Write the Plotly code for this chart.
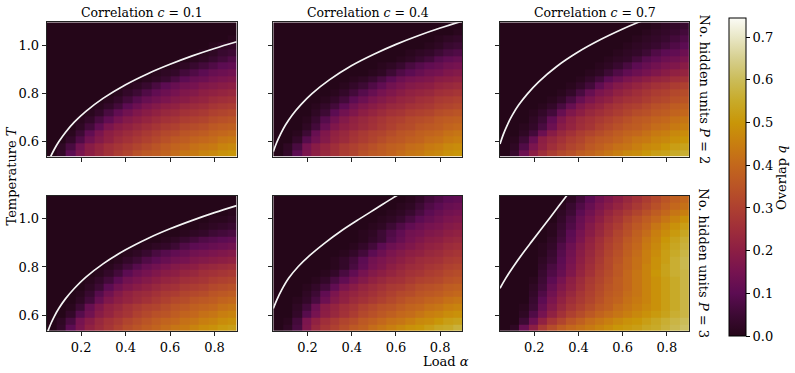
import numpy as np
import plotly.graph_objects as go

# ---------------- data ----------------
alpha = [0.066, 0.109, 0.152, 0.195, 0.237, 0.280, 0.323, 0.365, 0.408, 0.451,
         0.494, 0.536, 0.579, 0.622, 0.665, 0.707, 0.750, 0.793, 0.836, 0.879]
temperature = [0.549, 0.577, 0.605, 0.633, 0.661, 0.689, 0.717, 0.745, 0.773, 0.801,
               0.829, 0.857, 0.885, 0.913, 0.941, 0.969, 0.997, 1.025, 1.053, 1.081]

correlations = ["0.1", "0.4", "0.7"]
hidden_units = ["2", "3"]

# overlap q in hundredths; rows = temperature (low -> high), cols = alpha (low -> high)
q_p2_c01 = [
    [0, 3, 10, 16, 20, 23, 26, 29, 31, 34, 36, 37, 39, 41, 43, 44, 46, 47, 49, 50],
    [0, 2, 7, 14, 19, 22, 25, 27, 29, 31, 33, 35, 37, 39, 40, 42, 43, 44, 46, 47],
    [0, 0, 3, 8, 14, 18, 21, 24, 26, 28, 30, 32, 34, 36, 37, 39, 40, 41, 43, 44],
    [0, 0, 1, 5, 11, 16, 20, 22, 24, 26, 28, 30, 32, 33, 35, 36, 37, 39, 40, 41],
    [0, 0, 0, 2, 6, 11, 16, 19, 21, 23, 25, 27, 29, 30, 32, 33, 34, 36, 37, 38],
    [0, 0, 0, 1, 3, 7, 11, 15, 18, 20, 22, 24, 26, 27, 29, 30, 31, 33, 34, 35],
    [0, 0, 0, 0, 1, 3, 7, 11, 14, 17, 19, 21, 23, 24, 26, 27, 28, 30, 31, 32],
    [0, 0, 0, 0, 0, 1, 3, 6, 10, 13, 16, 18, 20, 21, 23, 24, 25, 27, 28, 29],
    [0, 0, 0, 0, 0, 0, 1, 3, 6, 9, 12, 14, 16, 18, 19, 21, 22, 24, 25, 26],
    [0, 0, 0, 0, 0, 0, 0, 1, 3, 5, 8, 11, 13, 15, 17, 18, 20, 21, 22, 23],
    [0, 0, 0, 0, 0, 0, 0, 0, 1, 2, 4, 7, 10, 12, 14, 15, 17, 18, 19, 20],
    [0, 0, 0, 0, 0, 0, 0, 0, 0, 0, 1, 2, 4, 7, 10, 12, 13, 15, 16, 17],
    [0, 0, 0, 0, 0, 0, 0, 0, 0, 0, 0, 1, 2, 3, 6, 8, 10, 12, 13, 14],
    [0, 0, 0, 0, 0, 0, 0, 0, 0, 0, 0, 0, 0, 1, 2, 4, 6, 8, 10, 11],
    [0, 0, 0, 0, 0, 0, 0, 0, 0, 0, 0, 0, 0, 0, 0, 1, 2, 4, 6, 8],
    [0, 0, 0, 0, 0, 0, 0, 0, 0, 0, 0, 0, 0, 0, 0, 0, 1, 2, 4, 5],
    [0, 0, 0, 0, 0, 0, 0, 0, 0, 0, 0, 0, 0, 0, 0, 0, 0, 1, 2, 3],
    [0, 0, 0, 0, 0, 0, 0, 0, 0, 0, 0, 0, 0, 0, 0, 0, 0, 0, 0, 1],
    [0, 0, 0, 0, 0, 0, 0, 0, 0, 0, 0, 0, 0, 0, 0, 0, 0, 0, 0, 0],
    [0, 0, 0, 0, 0, 0, 0, 0, 0, 0, 0, 0, 0, 0, 0, 0, 0, 0, 0, 0],
]
q_p2_c04 = [
    [0, 3, 10, 16, 20, 23, 26, 29, 31, 34, 36, 37, 39, 41, 43, 44, 46, 47, 49, 50],
    [0, 2, 7, 15, 19, 22, 25, 28, 30, 32, 34, 36, 38, 39, 41, 42, 44, 45, 47, 48],
    [0, 0, 3, 9, 14, 18, 22, 24, 27, 29, 31, 33, 35, 36, 38, 39, 41, 42, 44, 45],
    [0, 0, 1, 5, 12, 17, 21, 23, 26, 28, 30, 31, 33, 35, 36, 38, 39, 40, 42, 43],
    [0, 0, 0, 2, 6, 12, 17, 20, 22, 24, 26, 28, 30, 32, 33, 35, 36, 37, 39, 40],
    [0, 0, 0, 1, 4, 9, 14, 18, 21, 23, 25, 27, 29, 30, 32, 33, 34, 36, 37, 38],
    [0, 0, 0, 0, 2, 5, 10, 14, 17, 20, 22, 24, 26, 27, 29, 30, 31, 33, 34, 35],
    [0, 0, 0, 0, 1, 3, 6, 10, 14, 17, 19, 21, 23, 24, 26, 27, 28, 30, 31, 32],
    [0, 0, 0, 0, 0, 1, 3, 6, 10, 13, 16, 18, 20, 22, 23, 25, 26, 28, 29, 30],
    [0, 0, 0, 0, 0, 0, 1, 3, 6, 9, 12, 15, 17, 19, 21, 22, 23, 25, 26, 27],
    [0, 0, 0, 0, 0, 0, 0, 1, 3, 5, 8, 11, 14, 16, 18, 19, 20, 22, 23, 24],
    [0, 0, 0, 0, 0, 0, 0, 0, 1, 2, 4, 7, 10, 13, 15, 16, 17, 19, 20, 21],
    [0, 0, 0, 0, 0, 0, 0, 0, 0, 0, 1, 2, 5, 8, 10, 12, 14, 15, 17, 18],
    [0, 0, 0, 0, 0, 0, 0, 0, 0, 0, 0, 1, 2, 4, 7, 9, 11, 12, 14, 15],
    [0, 0, 0, 0, 0, 0, 0, 0, 0, 0, 0, 0, 0, 1, 2, 4, 6, 9, 11, 12],
    [0, 0, 0, 0, 0, 0, 0, 0, 0, 0, 0, 0, 0, 0, 1, 2, 3, 5, 7, 8],
    [0, 0, 0, 0, 0, 0, 0, 0, 0, 0, 0, 0, 0, 0, 0, 0, 1, 2, 4, 5],
    [0, 0, 0, 0, 0, 0, 0, 0, 0, 0, 0, 0, 0, 0, 0, 0, 0, 1, 2, 3],
    [0, 0, 0, 0, 0, 0, 0, 0, 0, 0, 0, 0, 0, 0, 0, 0, 0, 0, 0, 1],
    [0, 0, 0, 0, 0, 0, 0, 0, 0, 0, 0, 0, 0, 0, 0, 0, 0, 0, 0, 0],
]
q_p2_c07 = [
    [0, 4, 13, 20, 25, 29, 32, 34, 37, 39, 41, 43, 45, 47, 48, 50, 52, 53, 55, 56],
    [0, 2, 8, 16, 21, 25, 28, 31, 33, 36, 38, 40, 42, 43, 45, 47, 48, 50, 52, 53],
    [0, 1, 5, 12, 20, 23, 26, 29, 31, 34, 36, 37, 39, 41, 43, 44, 46, 47, 49, 50],
    [0, 0, 2, 6, 13, 19, 23, 26, 29, 31, 33, 35, 37, 39, 40, 42, 44, 45, 47, 48],
    [0, 0, 1, 3, 7, 13, 19, 22, 25, 27, 30, 32, 34, 36, 37, 39, 41, 42, 44, 45],
    [0, 0, 0, 2, 5, 11, 17, 21, 24, 26, 28, 30, 32, 34, 36, 37, 39, 40, 42, 43],
    [0, 0, 0, 1, 3, 6, 12, 17, 20, 23, 25, 27, 29, 31, 33, 34, 36, 37, 39, 40],
    [0, 0, 0, 0, 1, 3, 7, 12, 17, 20, 22, 25, 27, 29, 30, 32, 34, 35, 37, 38],
    [0, 0, 0, 0, 0, 1, 3, 7, 12, 16, 19, 21, 24, 26, 27, 29, 31, 32, 34, 35],
    [0, 0, 0, 0, 0, 0, 1, 3, 7, 12, 16, 18, 21, 23, 25, 27, 29, 30, 32, 33],
    [0, 0, 0, 0, 0, 0, 0, 1, 3, 6, 11, 15, 18, 20, 22, 24, 26, 27, 29, 30],
    [0, 0, 0, 0, 0, 0, 0, 0, 1, 3, 6, 10, 13, 16, 18, 20, 22, 23, 25, 26],
    [0, 0, 0, 0, 0, 0, 0, 0, 0, 1, 2, 5, 8, 11, 13, 15, 17, 19, 21, 22],
    [0, 0, 0, 0, 0, 0, 0, 0, 0, 0, 1, 2, 4, 7, 10, 12, 14, 16, 17, 19],
    [0, 0, 0, 0, 0, 0, 0, 0, 0, 0, 0, 1, 2, 3, 6, 9, 11, 13, 14, 16],
    [0, 0, 0, 0, 0, 0, 0, 0, 0, 0, 0, 0, 1, 2, 3, 5, 8, 10, 11, 13],
    [0, 0, 0, 0, 0, 0, 0, 0, 0, 0, 0, 0, 0, 1, 2, 3, 4, 6, 8, 10],
    [0, 0, 0, 0, 0, 0, 0, 0, 0, 0, 0, 0, 0, 0, 1, 2, 3, 4, 6, 8],
    [0, 0, 0, 0, 0, 0, 0, 0, 0, 0, 0, 0, 0, 0, 0, 1, 2, 3, 4, 6],
    [0, 0, 0, 0, 0, 0, 0, 0, 0, 0, 0, 0, 0, 0, 0, 0, 1, 2, 3, 4],
]
q_p3_c01 = [
    [0, 3, 10, 16, 21, 24, 27, 30, 33, 35, 37, 39, 41, 43, 44, 46, 48, 49, 51, 52],
    [0, 2, 7, 15, 19, 23, 26, 28, 31, 33, 35, 37, 39, 40, 42, 43, 45, 46, 48, 49],
    [0, 0, 3, 9, 14, 19, 22, 25, 27, 30, 32, 34, 35, 37, 39, 40, 42, 43, 45, 46],
    [0, 0, 1, 5, 12, 17, 21, 23, 26, 28, 30, 31, 33, 35, 36, 38, 39, 40, 42, 43],
    [0, 0, 0, 2, 6, 12, 17, 20, 22, 24, 26, 28, 30, 32, 33, 35, 36, 37, 39, 40],
    [0, 0, 0, 1, 4, 9, 14, 18, 21, 23, 24, 26, 28, 29, 31, 32, 33, 35, 36, 37],
    [0, 0, 0, 0, 2, 5, 10, 14, 17, 19, 21, 23, 25, 26, 28, 29, 30, 32, 33, 34],
    [0, 0, 0, 0, 1, 3, 6, 10, 14, 16, 18, 20, 22, 23, 25, 26, 27, 29, 30, 31],
    [0, 0, 0, 0, 0, 1, 3, 6, 10, 13, 15, 17, 19, 20, 22, 23, 25, 26, 27, 28],
    [0, 0, 0, 0, 0, 0, 1, 3, 6, 9, 12, 14, 16, 18, 19, 20, 22, 23, 24, 25],
    [0, 0, 0, 0, 0, 0, 0, 1, 3, 5, 8, 10, 12, 14, 15, 17, 18, 19, 20, 21],
    [0, 0, 0, 0, 0, 0, 0, 0, 1, 2, 4, 7, 9, 11, 12, 14, 15, 16, 17, 18],
    [0, 0, 0, 0, 0, 0, 0, 0, 0, 0, 1, 2, 3, 5, 8, 10, 11, 12, 13, 14],
    [0, 0, 0, 0, 0, 0, 0, 0, 0, 0, 0, 0, 1, 2, 4, 6, 8, 9, 10, 11],
    [0, 0, 0, 0, 0, 0, 0, 0, 0, 0, 0, 0, 0, 0, 1, 2, 3, 5, 6, 7],
    [0, 0, 0, 0, 0, 0, 0, 0, 0, 0, 0, 0, 0, 0, 0, 0, 1, 2, 3, 4],
    [0, 0, 0, 0, 0, 0, 0, 0, 0, 0, 0, 0, 0, 0, 0, 0, 0, 1, 1, 2],
    [0, 0, 0, 0, 0, 0, 0, 0, 0, 0, 0, 0, 0, 0, 0, 0, 0, 0, 0, 1],
    [0, 0, 0, 0, 0, 0, 0, 0, 0, 0, 0, 0, 0, 0, 0, 0, 0, 0, 0, 0],
    [0, 0, 0, 0, 0, 0, 0, 0, 0, 0, 0, 0, 0, 0, 0, 0, 0, 0, 0, 0],
]
q_p3_c04 = [
    [0, 2, 7, 17, 23, 27, 30, 33, 36, 38, 41, 43, 45, 47, 49, 50, 52, 54, 55, 57],
    [0, 1, 6, 16, 21, 25, 28, 31, 33, 36, 38, 40, 42, 43, 45, 47, 48, 50, 52, 53],
    [0, 0, 3, 9, 15, 20, 23, 26, 29, 32, 34, 36, 38, 40, 41, 43, 45, 46, 48, 49],
    [0, 0, 2, 6, 13, 19, 22, 25, 27, 30, 32, 34, 35, 37, 39, 40, 42, 43, 45, 46],
    [0, 0, 1, 3, 7, 13, 18, 21, 24, 26, 28, 30, 32, 34, 36, 37, 39, 40, 42, 43],
    [0, 0, 0, 2, 5, 11, 16, 20, 22, 24, 26, 28, 30, 32, 33, 35, 36, 37, 39, 40],
    [0, 0, 0, 1, 3, 6, 11, 16, 19, 22, 24, 26, 28, 29, 31, 33, 34, 35, 37, 38],
    [0, 0, 0, 0, 1, 3, 7, 11, 15, 18, 21, 23, 25, 26, 28, 30, 31, 32, 34, 35],
    [0, 0, 0, 0, 0, 1, 3, 7, 11, 15, 18, 20, 22, 24, 26, 27, 29, 30, 32, 33],
    [0, 0, 0, 0, 0, 0, 1, 3, 7, 11, 15, 17, 20, 22, 24, 25, 27, 28, 30, 31],
    [0, 0, 0, 0, 0, 0, 1, 3, 6, 10, 14, 16, 18, 20, 22, 24, 25, 26, 28, 29],
    [0, 0, 0, 0, 0, 0, 0, 1, 3, 6, 10, 13, 16, 18, 20, 21, 23, 24, 26, 27],
    [0, 0, 0, 0, 0, 0, 0, 0, 1, 3, 6, 10, 13, 15, 17, 19, 21, 22, 24, 25],
    [0, 0, 0, 0, 0, 0, 0, 0, 0, 1, 3, 5, 9, 12, 15, 17, 19, 20, 22, 23],
    [0, 0, 0, 0, 0, 0, 0, 0, 0, 1, 2, 5, 8, 11, 14, 15, 17, 18, 20, 21],
    [0, 0, 0, 0, 0, 0, 0, 0, 0, 0, 1, 2, 5, 8, 11, 13, 15, 16, 18, 19],
    [0, 0, 0, 0, 0, 0, 0, 0, 0, 0, 0, 1, 2, 4, 7, 10, 12, 14, 16, 17],
    [0, 0, 0, 0, 0, 0, 0, 0, 0, 0, 0, 0, 1, 2, 4, 7, 10, 12, 14, 15],
    [0, 0, 0, 0, 0, 0, 0, 0, 0, 0, 0, 0, 0, 1, 2, 5, 8, 10, 12, 13],
    [0, 0, 0, 0, 0, 0, 0, 0, 0, 0, 0, 0, 0, 0, 1, 3, 6, 8, 10, 11],
]
q_p3_c07 = [
    [0, 2, 12, 20, 28, 33, 37, 40, 42, 44, 46, 48, 50, 51, 52, 54, 55, 57, 59, 61],
    [0, 0, 5, 13, 21, 27, 31, 35, 38, 41, 43, 45, 47, 49, 50, 52, 54, 56, 58, 60],
    [0, 0, 2, 8, 15, 21, 26, 30, 33, 36, 39, 41, 43, 45, 47, 49, 51, 53, 56, 58],
    [0, 0, 1, 5, 12, 18, 23, 27, 30, 33, 36, 38, 41, 43, 45, 47, 49, 52, 55, 58],
    [0, 0, 0, 4, 10, 16, 21, 25, 28, 31, 34, 37, 39, 42, 44, 46, 49, 52, 55, 58],
    [0, 0, 0, 3, 8, 14, 19, 23, 27, 30, 33, 36, 38, 41, 43, 46, 49, 52, 55, 58],
    [0, 0, 0, 2, 6, 12, 17, 21, 25, 29, 32, 35, 37, 40, 43, 46, 49, 52, 55, 58],
    [0, 0, 0, 1, 5, 10, 15, 20, 24, 28, 31, 34, 37, 40, 43, 46, 49, 52, 55, 58],
    [0, 0, 0, 0, 4, 8, 12, 17, 22, 26, 30, 33, 36, 40, 43, 46, 50, 53, 56, 58],
    [0, 0, 0, 0, 3, 7, 11, 16, 21, 25, 29, 32, 36, 39, 42, 46, 49, 53, 56, 59],
    [0, 0, 0, 0, 2, 5, 10, 15, 20, 24, 28, 32, 35, 39, 42, 45, 49, 52, 56, 59],
    [0, 0, 0, 0, 1, 4, 9, 14, 19, 23, 27, 31, 34, 38, 41, 45, 48, 52, 55, 58],
    [0, 0, 0, 0, 1, 3, 8, 13, 18, 22, 26, 30, 33, 37, 40, 44, 47, 51, 54, 57],
    [0, 0, 0, 0, 0, 2, 6, 11, 16, 21, 25, 29, 32, 36, 39, 43, 46, 50, 53, 56],
    [0, 0, 0, 0, 0, 1, 5, 10, 15, 19, 23, 27, 31, 34, 38, 41, 45, 48, 51, 54],
    [0, 0, 0, 0, 0, 1, 4, 8, 13, 18, 22, 26, 29, 33, 36, 39, 43, 46, 49, 52],
    [0, 0, 0, 0, 0, 0, 3, 7, 12, 16, 20, 24, 27, 31, 34, 37, 40, 43, 46, 49],
    [0, 0, 0, 0, 0, 0, 2, 5, 10, 14, 18, 22, 25, 28, 31, 34, 37, 40, 43, 45],
    [0, 0, 0, 0, 0, 0, 1, 4, 8, 12, 16, 19, 22, 25, 28, 31, 34, 37, 40, 42],
    [0, 0, 0, 0, 0, 0, 0, 2, 6, 10, 14, 17, 20, 23, 26, 29, 32, 35, 38, 40],
]

# critical lines (alpha, T)
line_p2_c01_alpha = [0.063, 0.08, 0.10, 0.13, 0.17, 0.22, 0.30, 0.40, 0.50, 0.60, 0.70, 0.80, 0.90]
line_p2_c01_T = [0.536, 0.567, 0.598, 0.637, 0.680, 0.723, 0.779, 0.835, 0.881, 0.920, 0.955, 0.986, 1.014]
line_p2_c04_alpha = [0.045, 0.06, 0.08, 0.10, 0.13, 0.17, 0.22, 0.30, 0.40, 0.50, 0.60, 0.70, 0.80, 0.90]
line_p2_c04_T = [0.556, 0.593, 0.633, 0.667, 0.708, 0.752, 0.798, 0.856, 0.915, 0.962, 1.003, 1.039, 1.071, 1.100]
line_p2_c07_alpha = [0.045, 0.06, 0.08, 0.10, 0.13, 0.17, 0.22, 0.30, 0.40, 0.50, 0.60, 0.66, 0.70]
line_p2_c07_T = [0.588, 0.628, 0.671, 0.707, 0.751, 0.798, 0.847, 0.910, 0.972, 1.023, 1.067, 1.091, 1.105]
line_p3_c01_alpha = [0.05, 0.065, 0.08, 0.10, 0.13, 0.17, 0.22, 0.30, 0.40, 0.50, 0.60, 0.70, 0.80, 0.90]
line_p3_c01_T = [0.534, 0.568, 0.597, 0.629, 0.669, 0.712, 0.757, 0.814, 0.871, 0.918, 0.958, 0.993, 1.025, 1.054]
line_p3_c04_alpha = [0.045, 0.06, 0.083, 0.115, 0.158, 0.21, 0.279, 0.35, 0.437, 0.51, 0.59, 0.63]
line_p3_c04_T = [0.628, 0.662, 0.705, 0.754, 0.802, 0.848, 0.900, 0.948, 1.000, 1.042, 1.088, 1.110]
line_p3_c07_alpha = [0.045, 0.07, 0.105, 0.145, 0.188, 0.23, 0.271, 0.31, 0.35]
line_p3_c07_T = [0.712, 0.752, 0.801, 0.853, 0.905, 0.955, 1.004, 1.051, 1.099]

x_ticks = [0.2, 0.4, 0.6, 0.8]
y_ticks = [0.6, 0.8, 1.0]
cbar_ticks = [0.0, 0.1, 0.2, 0.3, 0.4, 0.5, 0.6, 0.7]

# ---------------- style ----------------
W, H = 795, 373
FONT = "DejaVu Serif"
ZMAX = 0.745
colorscale = [
    [0.000, "#250619"], [0.067, "#3d0a34"], [0.134, "#5c0c52"], [0.201, "#761350"],
    [0.268, "#8c1e44"], [0.336, "#9f2e3a"], [0.403, "#ae4030"], [0.470, "#ba5426"],
    [0.537, "#c3671c"], [0.604, "#c87e10"], [0.671, "#c99608"], [0.738, "#c8aa28"],
    [0.805, "#cbbc58"], [0.872, "#d6cf8e"], [0.940, "#e9e7c6"], [1.000, "#fbfbf6"],
]

panels = [
    [(q_p2_c01, line_p2_c01_alpha, line_p2_c01_T),
     (q_p2_c04, line_p2_c04_alpha, line_p2_c04_T),
     (q_p2_c07, line_p2_c07_alpha, line_p2_c07_T)],
    [(q_p3_c01, line_p3_c01_alpha, line_p3_c01_T),
     (q_p3_c04, line_p3_c04_alpha, line_p3_c04_T),
     (q_p3_c07, line_p3_c07_alpha, line_p3_c07_T)],
]

col_px = [(46.7, 236.7), (273.3, 462.3), (500.0, 689.0)]
row_px = [(22.3, 156.7), (195.7, 331.0)]

fig = go.Figure()
layout = dict(
    width=W, height=H, margin=dict(l=0, r=0, t=0, b=0),
    paper_bgcolor="white", plot_bgcolor="white", showlegend=False,
    font=dict(family=FONT, size=13, color="black"),
)
annotations = []

for r in range(2):
    for c in range(3):
        idx = r * 3 + c + 1
        xa = "x" if idx == 1 else f"x{idx}"
        ya = "y" if idx == 1 else f"y{idx}"
        q, la, lt = panels[r][c]
        z = np.array(q, dtype=float) / 100.0
        fig.add_trace(go.Heatmap(
            x=alpha, y=temperature, z=z, zmin=0, zmax=ZMAX, zsmooth=False,
            colorscale=colorscale, showscale=(idx == 1), xaxis=xa, yaxis=ya,
            colorbar=dict(
                x=729 / W, xanchor="left", xpad=0, y=1 - 177 / H, yanchor="middle",
                len=318 / H, lenmode="fraction", ypad=0, thickness=17,
                outlinewidth=1, outlinecolor="black",
                ticks="outside", ticklen=4, tickwidth=1, tickcolor="black",
                tickvals=cbar_ticks, ticktext=[f"{v:.1f}" for v in cbar_ticks],
                tickfont=dict(family=FONT, size=13, color="black"),
            ),
        ))
        fig.add_trace(go.Scatter(
            x=la, y=lt, mode="lines", line=dict(color="#f4f4f4", width=1.7, shape="spline"),
            xaxis=xa, yaxis=ya, hoverinfo="skip",
        ))
        x0, x1 = col_px[c]
        y0, y1 = row_px[r]
        axis_common = dict(
            showgrid=False, zeroline=False, showline=True, mirror=True,
            linecolor="#222", linewidth=1, ticks="outside", ticklen=4,
            tickwidth=1, tickcolor="#222",
            tickfont=dict(family=FONT, size=13, color="black"),
        )
        layout["xaxis" if idx == 1 else f"xaxis{idx}"] = dict(
            axis_common, domain=[x0 / W, x1 / W], range=[0.045, 0.9],
            tickvals=x_ticks, ticktext=[f"{v:.1f}" for v in x_ticks],
            showticklabels=(r == 1), anchor=ya,
        )
        layout["yaxis" if idx == 1 else f"yaxis{idx}"] = dict(
            axis_common, domain=[1 - y1 / H, 1 - y0 / H], range=[0.535, 1.095],
            tickvals=y_ticks, ticktext=[f"{v:.1f}" for v in y_ticks],
            showticklabels=(c == 0), anchor=xa,
        )
        if r == 0:
            annotations.append(dict(
                text=f"Correlation <i>c</i> = {correlations[c]}", x=(x0 + x1) / 2 / W,
                y=1 - 12.5 / H, xref="paper", yref="paper", showarrow=False,
                xanchor="center", yanchor="middle", font=dict(family=FONT, size=12.5),
            ))
    annotations.append(dict(
        text=f"No. hidden units <i>P</i> = {hidden_units[r]}", x=704 / W,
        y=1 - (row_px[r][0] + row_px[r][1]) / 2 / H, xref="paper", yref="paper",
        showarrow=False, textangle=90, xanchor="center", yanchor="middle",
        font=dict(family=FONT, size=13),
    ))

annotations += [
    dict(text="Temperature <i>T</i>", x=11 / W, y=1 - 176.5 / H, xref="paper", yref="paper",
         showarrow=False, textangle=-90, xanchor="center", yanchor="middle",
         font=dict(family=FONT, size=13)),
    dict(text="Load <i>α</i>", x=446 / W, y=1 - 361 / H, xref="paper", yref="paper",
         showarrow=False, xanchor="center", yanchor="middle", font=dict(family=FONT, size=13)),
    dict(text="Overlap <i>q</i>", x=781 / W, y=1 - 178 / H, xref="paper", yref="paper",
         showarrow=False, textangle=-90, xanchor="center", yanchor="middle",
         font=dict(family=FONT, size=13)),
]
layout["annotations"] = annotations
fig.update_layout(**layout)
fig.write_html("out.html")
